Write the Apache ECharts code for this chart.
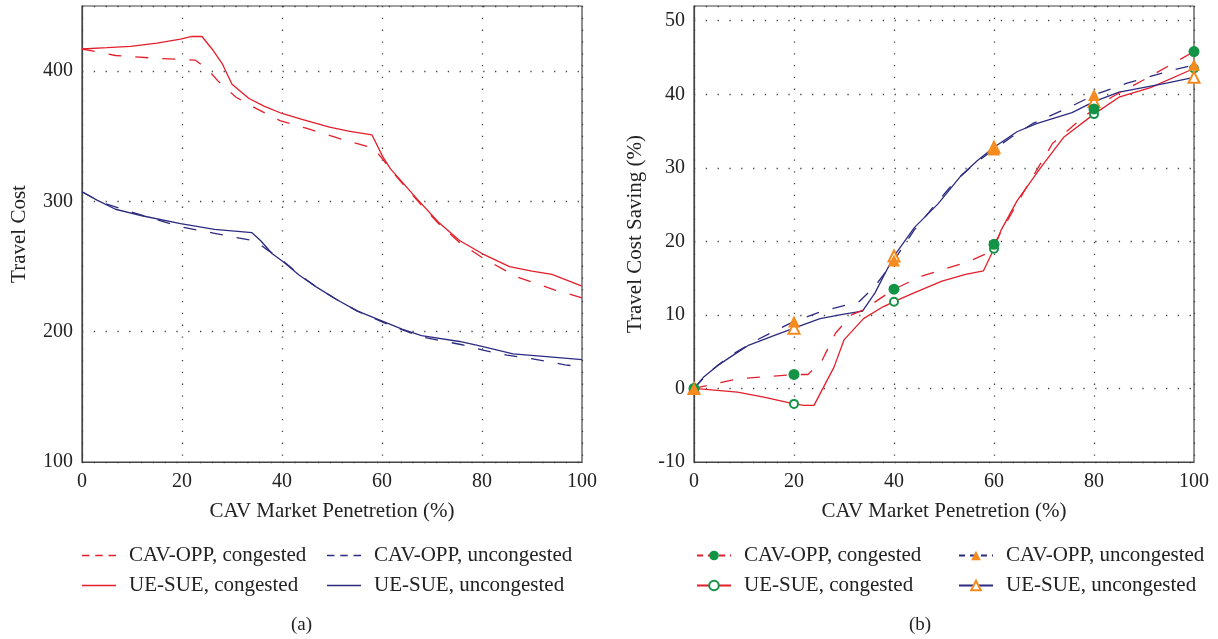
<!DOCTYPE html>
<html>
<head>
<meta charset="utf-8">
<script src="https://cdn.jsdelivr.net/npm/echarts@6/dist/echarts.min.js"></script>
<style>
  html, body { margin: 0; padding: 0; background: #fff; }
  #chartA { position: absolute; left: 0; top: 0; width: 609px; height: 639px; }
  #chartB { position: absolute; left: 609px; top: 0; width: 609px; height: 639px; }
</style>
</head>
<body>
<div id="chartA"></div>
<div id="chartB"></div>
<script>
// valores
var markerX = [0, 20, 40, 60, 80, 100];
var legendNames = ['CAV-OPP, congested', 'CAV-OPP, uncongested', 'UE-SUE, congested', 'UE-SUE, uncongested'];

// (a) travel cost
var costOppCongested = [[0,417],[6.7,412],[14.3,410],[22.7,408.4],[25.4,400.3],[27.3,392],[30.8,380],[35,371],[39.6,362],[45,356],[52.6,347],[58.3,341],[60,333],[62,323],[67,301],[71.3,283],[75.5,268.5],[80,257],[87,242],[94.6,232],[100,226]];
var costOppUncongested = [[0,307.4],[4,299],[9,293],[14,287],[19.7,280.6],[26.5,275.5],[34.6,269.6],[37,263],[40,255],[43.4,244],[47,234],[51,224.5],[55,216],[60,207.5],[64,201.5],[67.9,196],[72,193],[76,190],[80,186],[85,182],[89.3,179.7],[96.6,174.6],[100,173]];
var costUeCongested = [[0,417],[5,418],[9.7,419],[15,421.5],[19.7,424.5],[22,426.6],[24,426.6],[26,417],[28,406],[30,390],[33.4,379],[36.5,373],[40,367.5],[44,363],[49.5,357],[53.3,354],[58,351],[60.2,334],[61.7,325],[64,315],[67,302],[71.3,284],[75.5,270],[80,260],[85.5,250],[90,246.5],[94,244],[100,235]];
var costUeUncongested = [[0,307.4],[3,301],[6.7,294],[12,289],[19.7,283],[26.5,278.5],[34,276],[35.7,270],[38,260],[40.5,253],[43.4,243.5],[47,234],[51,224.5],[55,216],[60.2,208],[64,202],[67.9,197],[75.5,192.5],[80,188.7],[86.2,183],[92.3,181],[100,178.5]];

// (b) travel cost saving (%)
var savOppCongested = [[0,0],[8.7,1.3],[20,1.9],[22.8,1.9],[25.6,3.8],[28.3,7.5],[31.5,10],[33.9,10.7],[40,13.5],[45.7,15.3],[55.1,17.3],[58.7,18.4],[60,19.6],[66.1,26.9],[71.7,33.3],[77.2,36.5],[80,38],[83.5,39.6],[89.8,41.9],[95.3,44],[100,45.8]];
var savOppUncongested = [[0,0],[3,2.2],[7.1,4.4],[12.6,6.6],[17.3,8.2],[20,9.1],[25.6,10.5],[33,11.8],[36.2,13.9],[40,17.4],[44,21.5],[48,24.8],[52,28],[56,30.5],[60,32.5],[63.5,34.2],[67.7,36],[75.6,38.4],[80,39.9],[86.6,41.5],[95.3,43.2],[100,44]];
var savUeCongested = [[0,0],[8.7,-0.5],[14.2,-1.2],[20,-2.1],[22,-2.3],[24,-2.3],[28,2.9],[30,6.6],[33.9,9.5],[37.8,11.1],[40,11.8],[44,13],[49.6,14.6],[54.3,15.5],[57.9,16],[60,19],[61.4,21.5],[64.6,25.5],[69.3,30],[74,34.2],[80,37.3],[85,39.6],[91.3,40.9],[100,43.5]];
var savUeUncongested = [[0,0],[2,1.6],[4.7,3.1],[8,4.6],[11,5.9],[15.7,7.1],[20,8.2],[25.2,9.5],[30,10.1],[33.7,10.5],[36.2,13],[40,18],[44.1,21.9],[48.8,25.1],[53.5,29],[56.7,31],[60,32.8],[64.6,34.9],[68.5,36],[75.6,37.5],[80,39],[85,40.3],[89.8,40.9],[94.5,41.5],[100,42.3]];

var RED = '#e31f2b', NAVY = '#2c2b80', GREEN = '#139346', ORANGE = '#f58a1f';
var FONT = 'Liberation Serif';
var dotted = { color: '#444', width: 1.3, type: [1.3, 10.5] };
var dash = [13, 14];
// iconos de leyenda para (a): linea discontinua y continua
var iconDashed = 'path://M0,0h7v1.6h-7z M12.5,0h7v1.6h-7z M25,0h7v1.6h-7z';
var iconSolid = 'path://M0,0h32v1.6h-32z';

function conMarcadores(puntos) {
    return puntos.map(function (p) {
        if (markerX.indexOf(p[0]) >= 0) return { value: p };
        return { value: p, symbol: 'none' };
    });
}

function ejes(gridLeft, yMin, yMax, yName, yGap) {
    return {
        grid: { left: gridLeft, top: 6, width: 500, height: 456, show: true, borderColor: '#444', borderWidth: 1.2 },
        xAxis: {
            type: 'value', min: 0, max: 100, interval: 20,
            name: 'CAV Market Penetretion (%)', nameLocation: 'middle', nameGap: 39,
            nameTextStyle: { fontFamily: FONT, fontSize: 21, color: '#222' },
            axisLine: { onZero: false, lineStyle: { color: '#444', width: 1.2 } },
            axisTick: { show: false },
            axisLabel: { fontFamily: FONT, fontSize: 20, color: '#222', margin: 10 },
            splitLine: { show: true, lineStyle: dotted }
        },
        yAxis: {
            type: 'value', min: yMin, max: yMax, interval: yMin === 100 ? 100 : 10,
            name: yName, nameLocation: 'middle', nameGap: yGap,
            nameTextStyle: { fontFamily: FONT, fontSize: 21, color: '#222' },
            axisLine: { show: true, onZero: false, lineStyle: { color: '#444', width: 1.2 } },
            axisTick: { show: false },
            axisLabel: { fontFamily: FONT, fontSize: 20, color: '#222', margin: 9, showMaxLabel: false },
            splitLine: { show: true, lineStyle: dotted }
        }
    };
}

function leyendas(pos, iconos) {
    return legendNames.map(function (n, i) {
        var item = { name: n };
        if (iconos) item.icon = iconos[i];
        var ley = {
            data: [item], left: pos[i][0], top: pos[i][1], padding: 0,
            itemWidth: 34, itemHeight: 12, selectedMode: false,
            textStyle: { fontFamily: FONT, fontSize: 21, color: '#222', padding: [0, 0, 0, 8] }
        };
        if (!iconos && i < 2) ley.lineStyle = { type: [6, 5] };
        return ley;
    });
}

document.addEventListener('DOMContentLoaded', function () {
    // grafico (a)
    var chartA = echarts.init(document.getElementById('chartA'));
    var base = ejes(82, 100, 450, 'Travel Cost', 52);
    var optionA = {
        animation: false,
        grid: base.grid, xAxis: base.xAxis, yAxis: base.yAxis,
        legend: leyendas([[82, 545], [327, 545], [82, 575], [327, 575]], [iconDashed, iconDashed, iconSolid, iconSolid]),
        graphic: [{ type: 'text', left: 291, top: 616, style: { text: '(a)', fontFamily: FONT, fontSize: 19, fill: '#222' } }],
        series: [
            { name: legendNames[2], type: 'line', data: costUeCongested, symbol: 'none', lineStyle: { color: RED, width: 1.3 }, itemStyle: { color: RED } },
            { name: legendNames[3], type: 'line', data: costUeUncongested, symbol: 'none', lineStyle: { color: NAVY, width: 1.3 }, itemStyle: { color: NAVY } },
            { name: legendNames[0], type: 'line', data: costOppCongested, symbol: 'none', lineStyle: { color: RED, width: 1.3, type: dash }, itemStyle: { color: RED } },
            { name: legendNames[1], type: 'line', data: costOppUncongested, symbol: 'none', lineStyle: { color: NAVY, width: 1.3, type: dash }, itemStyle: { color: NAVY } }
        ]
    };
    optionA && chartA.setOption(optionA);

    // grafico (b)
    var chartB = echarts.init(document.getElementById('chartB'));
    var baseB = ejes(85, -10, 52, 'Travel Cost Saving (%)', 48);
    var optionB = {
        animation: false,
        grid: baseB.grid, xAxis: baseB.xAxis, yAxis: baseB.yAxis,
        legend: leyendas([[87, 545], [349, 545], [87, 575], [349, 575]]),
        graphic: [{ type: 'text', left: 300, top: 616, style: { text: '(b)', fontFamily: FONT, fontSize: 19, fill: '#222' } }],
        series: [
            { name: legendNames[2], type: 'line', data: conMarcadores(savUeCongested), symbol: 'emptyCircle', symbolSize: 8,
              lineStyle: { color: RED, width: 1.3 }, itemStyle: { color: GREEN, borderWidth: 1.3 } },
            { name: legendNames[3], type: 'line', data: conMarcadores(savUeUncongested), symbol: 'emptyTriangle', symbolSize: 11,
              lineStyle: { color: NAVY, width: 1.3 }, itemStyle: { color: ORANGE, borderWidth: 1.3 } },
            { name: legendNames[0], type: 'line', data: conMarcadores(savOppCongested), symbol: 'circle', symbolSize: 11,
              lineStyle: { color: RED, width: 1.3, type: dash }, itemStyle: { color: GREEN } },
            { name: legendNames[1], type: 'line', data: conMarcadores(savOppUncongested), symbol: 'triangle', symbolSize: 12,
              lineStyle: { color: NAVY, width: 1.3, type: dash }, itemStyle: { color: ORANGE } }
        ]
    };
    optionB && chartB.setOption(optionB);
});
</script>
</body>
</html>
